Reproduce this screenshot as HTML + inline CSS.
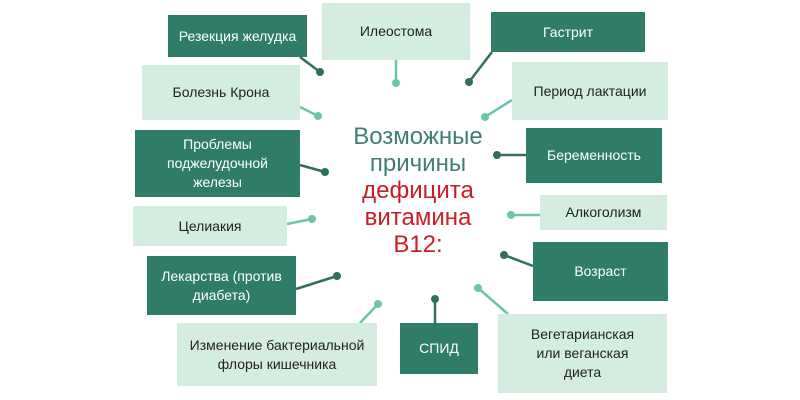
<!DOCTYPE html>
<html><head><meta charset="utf-8"><style>
body{margin:0;width:800px;height:400px;background:#fff;position:relative;overflow:hidden;font-family:"Liberation Sans","Noto Sans CJK SC",sans-serif}
.b{position:absolute;display:flex;align-items:center;justify-content:center;text-align:center;font-size:14px;line-height:19px;box-sizing:border-box}
.d{background:#2f7c69;color:#fff}
.l{background:#d5ece0;color:#222}
svg{position:absolute;left:0;top:0}
.c{position:absolute;left:338px;width:160px;text-align:center;font-size:24px;line-height:27px;top:123px}
</style></head><body>
<svg width="800" height="400">
<g stroke-width="2.5">
<line x1="300" y1="57" x2="320" y2="72" stroke="#2f6e60"/>
<line x1="396" y1="60" x2="396" y2="83" stroke="#6cc6a6"/>
<line x1="492" y1="52" x2="469" y2="82" stroke="#2f6e60"/>
<line x1="300" y1="107" x2="318" y2="116" stroke="#6cc6a6"/>
<line x1="512" y1="100" x2="485" y2="117" stroke="#6cc6a6"/>
<line x1="300" y1="165" x2="325" y2="172" stroke="#2f6e60"/>
<line x1="526" y1="155" x2="497" y2="155" stroke="#2f6e60"/>
<line x1="287" y1="224" x2="312" y2="219" stroke="#6cc6a6"/>
<line x1="540" y1="215" x2="511" y2="215" stroke="#6cc6a6"/>
<line x1="296" y1="289" x2="337" y2="276" stroke="#2f6e60"/>
<line x1="533" y1="266" x2="504" y2="255" stroke="#2f6e60"/>
<line x1="360" y1="323" x2="378" y2="304" stroke="#6cc6a6"/>
<line x1="435" y1="323" x2="435" y2="299" stroke="#2f6e60"/>
<line x1="508" y1="314" x2="478" y2="288" stroke="#6cc6a6"/>
</g>
<g>
<circle cx="320" cy="72" r="4" fill="#2f6e60"/>
<circle cx="396" cy="83" r="4" fill="#6cc6a6"/>
<circle cx="469" cy="82" r="4" fill="#2f6e60"/>
<circle cx="318" cy="116" r="4" fill="#6cc6a6"/>
<circle cx="485" cy="117" r="4" fill="#6cc6a6"/>
<circle cx="325" cy="172" r="4" fill="#2f6e60"/>
<circle cx="497" cy="155" r="4" fill="#2f6e60"/>
<circle cx="312" cy="219" r="4" fill="#6cc6a6"/>
<circle cx="511" cy="215" r="4" fill="#6cc6a6"/>
<circle cx="337" cy="276" r="4" fill="#2f6e60"/>
<circle cx="504" cy="255" r="4" fill="#2f6e60"/>
<circle cx="378" cy="304" r="4" fill="#6cc6a6"/>
<circle cx="435" cy="299" r="4" fill="#2f6e60"/>
<circle cx="478" cy="288" r="4" fill="#6cc6a6"/>
</g>
</svg>
<div class="b d" style="left:168px;top:15px;width:139px;height:42px">Резекция желудка</div>
<div class="b l" style="left:322px;top:3px;width:148px;height:57px">Илеостома</div>
<div class="b d" style="left:491px;top:12px;width:154px;height:40px">Гастрит</div>
<div class="b l" style="left:142px;top:65px;width:158px;height:55px">Болезнь Крона</div>
<div class="b l" style="left:512px;top:62px;width:156px;height:58px">Период лактации</div>
<div class="b d" style="left:135px;top:130px;width:165px;height:67px">Проблемы<br>поджелудочной<br>железы</div>
<div class="b d" style="left:526px;top:128px;width:136px;height:55px">Беременность</div>
<div class="b l" style="left:133px;top:206px;width:154px;height:40px">Целиакия</div>
<div class="b l" style="left:540px;top:195px;width:127px;height:35px">Алкоголизм</div>
<div class="b d" style="left:147px;top:256px;width:149px;height:59px">Лекарства (против<br>диабета)</div>
<div class="b d" style="left:533px;top:242px;width:135px;height:59px">Возраст</div>
<div class="b l" style="left:177px;top:323px;width:200px;height:63px">Изменение бактериальной<br>флоры кишечника</div>
<div class="b d" style="left:400px;top:323px;width:78px;height:51px">СПИД</div>
<div class="b l" style="left:498px;top:314px;width:169px;height:79px">Вегетарианская<br>или веганская<br>диета</div>
<div class="c"><span style="color:#3e7e74">Возможные<br>причины</span><br><span style="color:#c81e24">дефицита<br>витамина<br>B12:</span></div>
</body></html>
